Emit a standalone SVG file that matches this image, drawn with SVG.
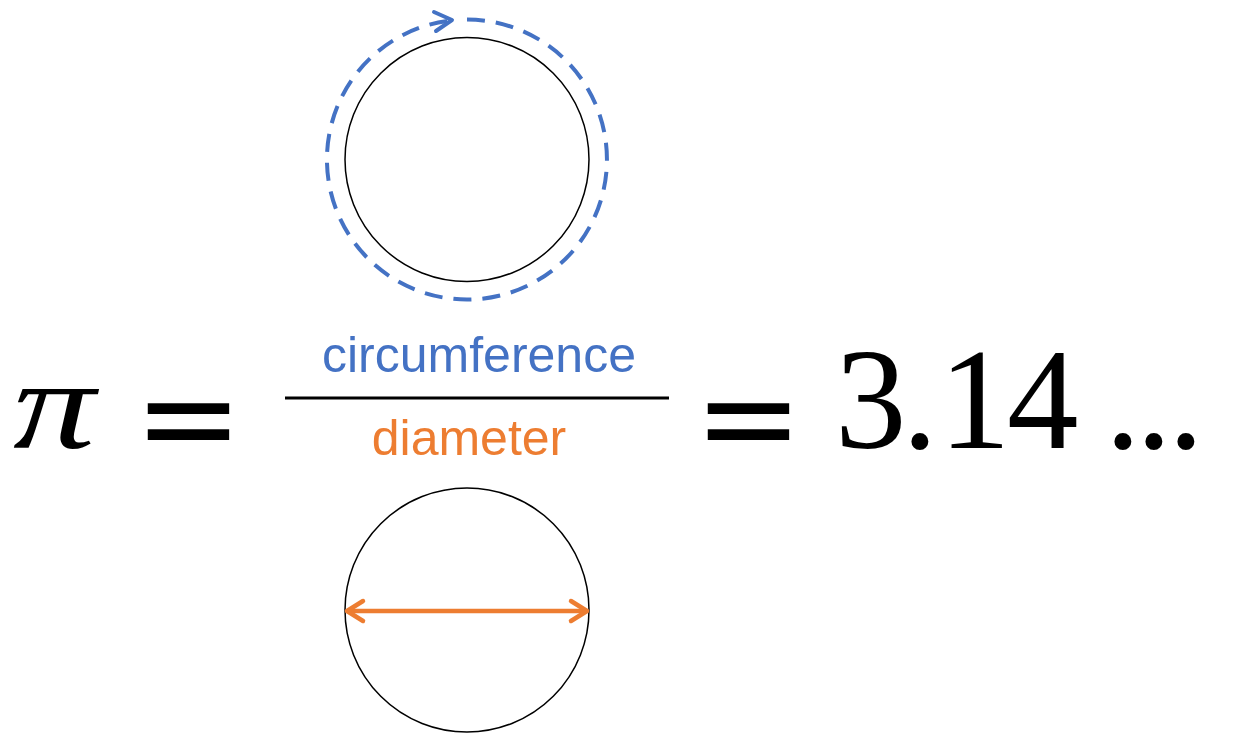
<svg xmlns="http://www.w3.org/2000/svg" width="1237" height="733" viewBox="0 0 1237 733">
<style>
.circ{fill:none;stroke:#000;stroke-width:1.5}
.math{font-family:"Liberation Serif","DejaVu Serif",serif;fill:#000}
.eq{font-family:"DejaVu Sans",sans-serif;font-size:130px;fill:#000}
.lbl{font-family:"Liberation Sans",Arial,sans-serif;font-size:50px;text-anchor:middle}
</style>
<rect width="1237" height="733" fill="#fff"/>
<g id="circumference-circle">
<circle class="circ" cx="467" cy="159.5" r="122"/>
</g>
<g id="diameter-circle">
<circle class="circ" cx="467" cy="610" r="122"/>
</g>
<g id="equation">
<text class="math" transform="translate(13 448) scale(1.15 0.89)" x="0" y="0" font-size="143" font-style="italic">π</text>
<text class="eq" x="134" y="462">=</text>
<line x1="285" y1="398" x2="669" y2="398" stroke="#000" stroke-width="3"/>
<text class="lbl" x="479" y="372" fill="#4472C4">circumference</text>
<text class="lbl" x="469" y="455" fill="#ED7D31">diameter</text>
<text class="eq" x="694" y="462">=</text>
<text class="math" y="448" font-size="143" x="835 902 939 1007">3.14</text>
<text class="math" y="448" font-size="143" x="1105 1136 1168">...</text>
</g>
<g id="connectors">
<path d="M 467 19.5 A 140 140 0 1 1 452 20.3" fill="none" stroke="#4472C4" stroke-width="4" stroke-dasharray="18 11"/>
<path d="M 434 12 L 452 20 L 436 31" fill="none" stroke="#4472C4" stroke-width="4" stroke-linecap="round" stroke-linejoin="round"/>
<line x1="347" y1="611" x2="587" y2="611" stroke="#ED7D31" stroke-width="4.5"/>
<path d="M 363 601 L 347 611 L 363 621" fill="none" stroke="#ED7D31" stroke-width="4.5" stroke-linecap="round" stroke-linejoin="round"/>
<path d="M 571 601 L 587 611 L 571 621" fill="none" stroke="#ED7D31" stroke-width="4.5" stroke-linecap="round" stroke-linejoin="round"/>
</g>
</svg>
